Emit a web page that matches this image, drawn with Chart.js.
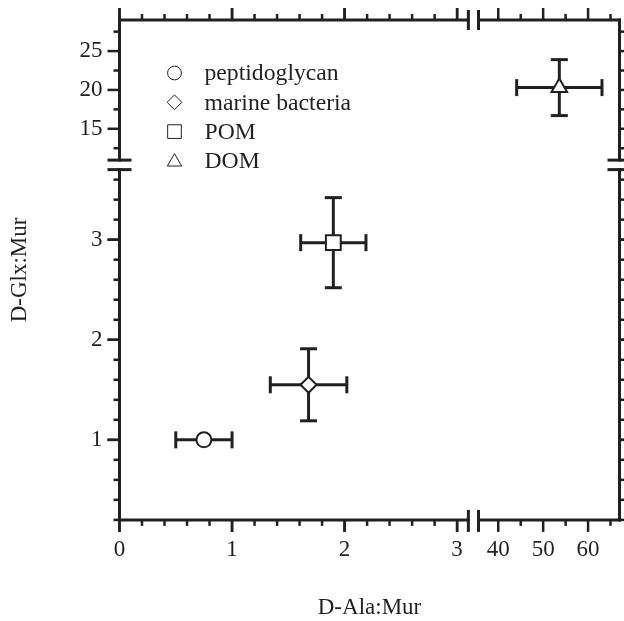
<!DOCTYPE html>
<html>
<head>
<meta charset="utf-8">
<script src="https://cdn.jsdelivr.net/npm/chart.js"></script>
<style>
  html, body { margin: 0; padding: 0; background: #fff; }
  canvas { display: block; }
</style>
</head>
<body>
<canvas id="chart" width="624" height="621"></canvas>
<script>
// Values
const sampleNames = ['peptidoglycan', 'marine bacteria', 'POM', 'DOM'];
const alaMur = [0.75, 1.68, 1.9, 53.6];
const alaMurErr = [0.25, 0.34, 0.29, 9.5];
const glxMur = [1.0, 1.55, 2.97, 20.3];
const glxMurErr = [0, 0.36, 0.45, 3.6];
const markerStyles = ['circle', 'rectRot', 'rect', 'triangle'];
const markerSizes = [7.5, 8, 10.5, 9];

// Tick labels of the broken axes
const xTicksLow = [0, 1, 2, 3];
const xTicksHigh = [40, 50, 60];
const yTicksLow = [1, 2, 3];
const yTicksHigh = [15, 20, 25];

const ink = '#231f20';
const serif = '"Liberation Serif", "Times New Roman", serif';

function minorSteps(from, to, step) {
    const out = [];
    for (let v = from; v <= to + 1e-9; v += step) out.push(Math.round(v * 1000) / 1000);
    return out;
}

function fixedTicks(values) {
    return function(scale) {
        scale.ticks = values.map(v => ({ value: v }));
    };
}

function noPadding(scale) {
    scale.paddingTop = 0;
    scale.paddingBottom = 0;
    scale.paddingLeft = 0;
    scale.paddingRight = 0;
}

function seg(ctx, x1, y1, x2, y2) {
    ctx.beginPath();
    ctx.moveTo(x1, y1);
    ctx.lineTo(x2, y2);
    ctx.stroke();
}

// Axis frame, tick marks, break marks and error bars
const brokenAxes = {
    id: 'brokenAxes',
    beforeDatasetsDraw(chart) {
        const { ctx, chartArea: a, scales: s } = chart;
        ctx.save();
        ctx.strokeStyle = ink;

        const xBreakL = s.xLow.getPixelForValue(3.1);
        const xBreakR = s.xHigh.left;
        const yBreakT = s.yHigh.bottom;
        const yBreakB = s.yLow.getPixelForValue(3.7);

        // axis lines
        ctx.lineWidth = 3;
        ctx.lineCap = 'square';
        seg(ctx, a.left, a.bottom, xBreakL, a.bottom);
        seg(ctx, xBreakR, a.bottom, a.right, a.bottom);
        seg(ctx, a.left, a.top, xBreakL, a.top);
        seg(ctx, xBreakR, a.top, a.right, a.top);
        seg(ctx, a.left, a.bottom, a.left, yBreakB);
        seg(ctx, a.left, yBreakT, a.left, a.top);
        seg(ctx, a.right, a.bottom, a.right, yBreakB);
        seg(ctx, a.right, yBreakT, a.right, a.top);

        // break marks
        ctx.lineCap = 'butt';
        [xBreakL, xBreakR].forEach(x => {
            seg(ctx, x, a.bottom - 10, x, a.bottom + 12);
            seg(ctx, x, a.top - 10, x, a.top + 10);
        });
        [yBreakT, yBreakB].forEach(y => {
            seg(ctx, a.left - 12, y, a.left + 12, y);
            seg(ctx, a.right - 12, y, a.right + 6, y);
        });

        // tick marks, outward on all four sides
        ctx.lineWidth = 2.5;
        const major = 12, minor = 6;
        const xs = [
            [s.xLow, xTicksLow, minorSteps(0, 3, 0.2)],
            [s.xHigh, xTicksHigh, [45, 55, 65]]
        ];
        xs.forEach(([sc, majors, minors]) => {
            minors.concat(majors).forEach(v => {
                const len = majors.includes(v) ? major : minor;
                const px = sc.getPixelForValue(v);
                seg(ctx, px, a.bottom, px, a.bottom + len);
                seg(ctx, px, a.top, px, a.top - len);
            });
        });
        const ys = [
            [s.yLow, yTicksLow, minorSteps(0.2, 3.6, 0.2)],
            [s.yHigh, yTicksHigh, [12.5, 17.5, 22.5, 27.5]]
        ];
        ys.forEach(([sc, majors, minors]) => {
            minors.concat(majors).forEach(v => {
                const len = majors.includes(v) ? major : minor;
                const py = sc.getPixelForValue(v);
                seg(ctx, a.left, py, a.left - len, py);
                seg(ctx, a.right, py, a.right + len, py);
            });
        });

        // error bars
        ctx.lineWidth = 3;
        const cap = 8.5;
        chart.data.datasets.forEach((ds, i) => {
            const xs = s[ds.xAxisID], ys = s[ds.yAxisID];
            const cx = xs.getPixelForValue(alaMur[i]);
            const cy = ys.getPixelForValue(glxMur[i]);
            if (alaMurErr[i] > 0) {
                const x0 = xs.getPixelForValue(alaMur[i] - alaMurErr[i]);
                const x1 = xs.getPixelForValue(alaMur[i] + alaMurErr[i]);
                seg(ctx, x0, cy, x1, cy);
                seg(ctx, x0, cy - cap, x0, cy + cap);
                seg(ctx, x1, cy - cap, x1, cy + cap);
            }
            if (glxMurErr[i] > 0) {
                const y0 = ys.getPixelForValue(glxMur[i] - glxMurErr[i]);
                const y1 = ys.getPixelForValue(glxMur[i] + glxMurErr[i]);
                seg(ctx, cx, y0, cx, y1);
                seg(ctx, cx - cap, y0, cx + cap, y0);
                seg(ctx, cx - cap, y1, cx + cap, y1);
            }
        });
        ctx.restore();
    },
    afterDraw(chart) {
        // legend inside the plot, upper left
        const { ctx, chartArea: a } = chart;
        ctx.save();
        sampleNames.forEach((name, i) => {
            const rowY = a.top + 53 + i * 29.3;
            ctx.fillStyle = '#fff';
            ctx.strokeStyle = ink;
            Chart.helpers.drawPoint(ctx, {
                pointStyle: markerStyles[i],
                radius: markerSizes[i] * 0.92,
                borderWidth: 2,
                rotation: 0
            }, a.left + 55, rowY + (i === 3 ? 1 : 0));
            ctx.fillStyle = ink;
            ctx.font = '23.7px ' + serif;
            ctx.textBaseline = 'middle';
            ctx.textAlign = 'left';
            ctx.fillText(name, a.left + 85, rowY + 1);
        });
        ctx.restore();
    }
};

const datasets = sampleNames.map((name, i) => ({
    label: name,
    data: [{ x: alaMur[i], y: glxMur[i] }],
    xAxisID: i === 3 ? 'xHigh' : 'xLow',
    yAxisID: i === 3 ? 'yHigh' : 'yLow',
    pointStyle: markerStyles[i],
    pointRadius: markerSizes[i],
    pointBorderWidth: 2,
    pointBackgroundColor: '#fff',
    pointBorderColor: ink
}));

const tickFont = { family: serif, size: 23 };

function xAxis(min, max, weight, ticks) {
    return {
        type: 'linear', position: 'bottom', stack: 'x', stackWeight: weight,
        min: min, max: max,
        grid: { display: false, drawTicks: false }, border: { display: false },
        afterBuildTicks: fixedTicks(ticks),
        afterFit(scale) { scale.height = 68; noPadding(scale); },
        ticks: { color: ink, font: tickFont, padding: 16, maxRotation: 0, autoSkip: false }
    };
}

function yAxis(min, max, weight, ticks) {
    return {
        type: 'linear', position: 'left', stack: 'y', stackWeight: weight,
        min: min, max: max,
        grid: { display: false, drawTicks: false }, border: { display: false },
        afterBuildTicks: fixedTicks(ticks),
        afterFit(scale) { scale.width = 85.9; noPadding(scale); },
        ticks: { color: ink, font: tickFont, padding: 17, autoSkip: false }
    };
}

new Chart(document.getElementById('chart'), {
    type: 'scatter',
    data: { datasets: datasets },
    options: {
        responsive: false,
        animation: false,
        layout: { autoPadding: false, padding: { top: 20, right: 4.5, left: 0, bottom: 0 } },
        scales: {
            yLow: yAxis(0.2, 3.795, 359.5, yTicksLow),
            yHigh: yAxis(10.97, 29, 140, yTicksHigh),
            xLow: xAxis(0, 3.19, 359, xTicksLow),
            xHigh: xAxis(35.6, 67, 141, xTicksHigh)
        },
        plugins: {
            legend: { display: false },
            tooltip: { enabled: false },
            title: {
                display: true, text: 'D-Glx:Mur', position: 'left', fullSize: false,
                color: ink, font: { family: serif, size: 23, weight: 'normal', lineHeight: 1.2 },
                padding: { top: 6, bottom: 0 }
            },
            subtitle: {
                display: true, text: 'D-Ala:Mur', position: 'bottom', fullSize: false,
                color: ink, font: { family: serif, size: 23, weight: 'normal', lineHeight: 1.1 },
                padding: { top: 7.8, bottom: 0 }
            }
        }
    },
    plugins: [brokenAxes]
});
</script>
</body>
</html>
